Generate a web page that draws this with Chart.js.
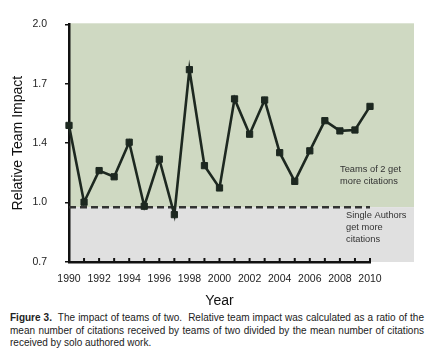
<!DOCTYPE html>
<html>
<head>
<meta charset="utf-8">
<script src="https://cdn.jsdelivr.net/npm/chart.js@4/dist/chart.umd.min.js"></script>
<style>
  body { margin: 0; background: #fff; width: 434px; height: 354px; position: relative; overflow: hidden; }
  #chart { position: absolute; left: 0; top: 0; }
  .caption { position: absolute; left: 10px; top: 312px; width: 414px; font: 10px "Liberation Sans", Arial, sans-serif; line-height: 12.5px; color: #222; }
  .caption div { text-align: justify; text-align-last: justify; white-space: normal; }
  .caption div.last { text-align-last: left; }
</style>
</head>
<body>
<canvas id="chart" width="434" height="310"></canvas>
<div class="caption">
  <div><b>Figure 3.</b>&nbsp; The impact of teams of two.&nbsp; Relative team impact was calculated as a ratio of the</div>
  <div>mean number of citations received by teams of two divided by the mean number of citations</div>
  <div class="last">received by solo authored work.</div>
</div>
<script>
// data
const years = [1990, 1991, 1992, 1993, 1994, 1995, 1996, 1997, 1998, 1999, 2000,
               2001, 2002, 2003, 2004, 2005, 2006, 2007, 2008, 2009, 2010];
const teamImpact = [1.447, 1.027, 1.200, 1.166, 1.355, 1.005, 1.262, 0.959, 1.752, 1.227, 1.105,
                    1.592, 1.399, 1.586, 1.298, 1.141, 1.308, 1.473, 1.417, 1.422, 1.551];
const splitValue = 1.0;
const yTickValues = [0.7, 1.025, 1.35, 1.675, 2.0];
const yTickLabels = ["0.7", "1.0", "1.4", "1.7", "2.0"];
const upperNote = ["Teams of 2 get", "more citations"];
const lowerNote = ["Single Authors", "get more", "citations"];

const ink = "#1d2820";

// shaded halves behind the plot, they run past the last year
const shading = {
    id: "shading",
    beforeDraw(chart) {
        const { ctx, chartArea, scales } = chart;
        const yMid = scales.y.getPixelForValue(splitValue);
        const w = chartArea.right - chartArea.left + 44;
        ctx.save();
        ctx.fillStyle = "#cfd9c2";
        ctx.fillRect(chartArea.left, chartArea.top - 1, w, yMid - chartArea.top + 1);
        ctx.fillStyle = "#e0e0e0";
        ctx.fillRect(chartArea.left, yMid, w, chartArea.bottom - yMid);
        ctx.restore();
    },
    afterDraw(chart) {
        const { ctx, chartArea, scales } = chart;
        // inward tick marks on the year axis
        ctx.save();
        ctx.strokeStyle = "#111";
        ctx.lineWidth = 2;
        scales.x.ticks.forEach(t => {
            const px = scales.x.getPixelForValue(t.value);
            ctx.beginPath();
            ctx.moveTo(px, chartArea.bottom);
            ctx.lineTo(px, chartArea.bottom - 4);
            ctx.stroke();
        });
        // notes
        const yMid = scales.y.getPixelForValue(splitValue);
        ctx.fillStyle = "#333";
        ctx.font = "9.3px 'Liberation Sans', Arial, sans-serif";
        ctx.textBaseline = "middle";
        ctx.textAlign = "left";
        upperNote.forEach((s, i) => ctx.fillText(s, chartArea.right - 30, yMid - 38 + i * 12));
        lowerNote.forEach((s, i) => ctx.fillText(s, chartArea.right - 24, yMid + 8 + i * 12));
        ctx.restore();
    }
};

new Chart(document.getElementById("chart"), {
    type: "line",
    data: {
        datasets: [{
            data: years.map((y, i) => ({ x: y, y: teamImpact[i] })),
            borderColor: ink,
            backgroundColor: ink,
            borderWidth: 2.6,
            pointStyle: "rect",
            pointRadius: 4.4,
            pointBorderWidth: 1,
            tension: 0,
            clip: false,
            order: 0
        }, {
            data: [{ x: years[0], y: splitValue }, { x: years[years.length - 1], y: splitValue }],
            borderColor: "#333",
            borderWidth: 2.5,
            borderDash: [7, 4],
            pointRadius: 0,
            clip: false,
            order: 1
        }]
    },
    options: {
        responsive: false,
        animation: false,
        layout: { padding: { top: 19, right: 64, left: 0, bottom: 0 } },
        plugins: {
            legend: { display: false },
            tooltip: { enabled: false }
        },
        scales: {
            x: {
                type: "linear",
                min: 1990,
                max: 2010,
                afterFit: s => { s.height = 48; },
                grid: { display: false },
                border: { display: true, color: "#111", width: 2.5 },
                ticks: {
                    stepSize: 1,
                    autoSkip: false,
                    maxRotation: 0,
                    padding: 3,
                    color: "#222",
                    font: { family: "'Liberation Sans', Arial, sans-serif", size: 10.5 },
                    callback: v => (v % 2 === 0 ? String(v) : "")
                },
                title: {
                    display: true,
                    text: "Year",
                    color: "#111",
                    font: { family: "'Liberation Sans', Arial, sans-serif", size: 14 },
                    padding: { top: 0, bottom: 0 }
                }
            },
            y: {
                min: 0.7,
                max: 2.0,
                afterFit: s => { s.width = 69; },
                afterBuildTicks: s => { s.ticks = yTickValues.map(v => ({ value: v })); },
                grid: { display: true, drawOnChartArea: false, drawTicks: true, tickLength: 4, color: "#111", lineWidth: 1.5 },
                border: { display: true, color: "#111", width: 2.5 },
                ticks: {
                    padding: 18,
                    color: "#222",
                    font: { family: "'Liberation Sans', Arial, sans-serif", size: 10.5 },
                    callback: (v, i) => yTickLabels[i]
                },
                title: {
                    display: true,
                    text: "Relative Team Impact",
                    color: "#111",
                    font: { family: "'Liberation Sans', Arial, sans-serif", size: 14 },
                    padding: { top: 10, bottom: 0 }
                }
            }
        }
    },
    plugins: [shading]
});
</script>
</body>
</html>
